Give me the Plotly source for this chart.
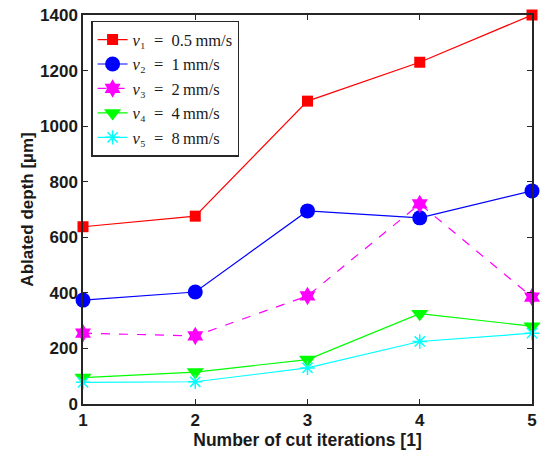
import plotly.graph_objects as go

iterations = [1, 2, 3, 4, 5]
v1 = [638, 676, 1090, 1230, 1400]
v2 = [374, 403, 695, 670, 767]
v3 = [255, 245, 389, 720, 385]
v4 = [95, 115, 160, 325, 280]
v5 = [78, 80, 130, 225, 255]

eq = "\u2002=\u2002"
names = ["<i>v</i>\u2081" + eq + "0.5\u2009mm/s",
         "<i>v</i>\u2082" + eq + "1\u2009mm/s",
         "<i>v</i>\u2083" + eq + "2\u2009mm/s",
         "<i>v</i>\u2084" + eq + "4\u2009mm/s",
         "<i>v</i>\u2085" + eq + "8\u2009mm/s"]
colors = ["#ff0000", "#0000ff", "#ff00ff", "#00ff00", "#00ffff"]
symbols = ["square", "circle", "hexagram", "triangle-down", "asterisk-open"]
sizes = [11, 15, 14, 15, 12]
dashes = ["solid", "solid", "dash", "solid", "solid"]
series = [v1, v2, v3, v4, v5]

fig = go.Figure()
for s, n, c, sym, sz, d in zip(series, names, colors, symbols, sizes, dashes):
    fig.add_trace(go.Scatter(
        x=iterations, y=s, name=n, mode="lines+markers",
        line=dict(color=c, width=1.2, dash=d),
        marker=dict(symbol=sym, size=sz, color=c,
                    line=dict(color=c, width=1.5 if sym == "asterisk-open" else 0)),
        cliponaxis=False,
    ))

axis_common = dict(showline=True, linecolor="#262626", linewidth=1.5, mirror="ticks",
                   ticks="inside", ticklen=5, tickcolor="#262626", showgrid=False,
                   zeroline=False,
                   tickfont=dict(family="Liberation Sans, Arial", size=17, color="#1a1a1a", weight="bold"))

fig.update_layout(
    width=542, height=460,
    margin=dict(l=83, r=5, t=15, b=56),
    paper_bgcolor="white", plot_bgcolor="white",
    xaxis=dict(range=[1, 5], tickvals=[1, 2, 3, 4, 5],
               title=dict(text="<b>Number of cut iterations [1]</b>", standoff=4,
                          font=dict(family="Liberation Sans, Arial", size=17.5, color="#1a1a1a")),
               **axis_common),
    yaxis=dict(range=[0, 1400], tickvals=[0, 200, 400, 600, 800, 1000, 1200, 1400],
               title=dict(text="<b>Ablated depth [µm]</b>", standoff=2,
                          font=dict(family="Liberation Sans, Arial", size=17, color="#1a1a1a")),
               **axis_common),
    legend=dict(x=0.018, y=0.985, xanchor="left", yanchor="top",
                bgcolor="white", bordercolor="#262626", borderwidth=1.5,
                font=dict(family="Liberation Serif, DejaVu Serif", size=16.5, color="#1a1a1a"),
                tracegroupgap=0, itemwidth=30),
    showlegend=True,
)

fig.write_html("out.html", config={"displayModeBar": False},
               post_script="document.body.style.margin='0';")
